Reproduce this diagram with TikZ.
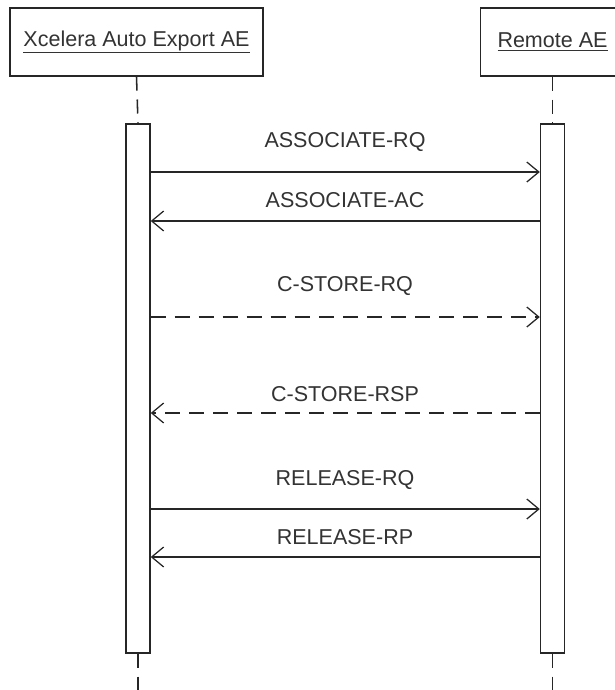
\documentclass[tikz,border=0pt]{standalone}
\usepackage{fontspec}
\setmainfont{Liberation Sans}
\usetikzlibrary{arrows.meta}

\begin{document}
\begin{tikzpicture}
	[x = 0.025cm, y = -0.025cm,
	every node/.style = {font=\fontsize{15.3}{18}\selectfont, text=black!80},
	actor/.style = {draw=black!85, line width=1pt, fill=white, inner sep=0pt, minimum height=1.7cm},
	bar/.style = {draw=black!85, line width=1pt, fill=white, inner sep=0pt, minimum width=0.6cm, minimum height=13.225cm},
	lifeline/.style = {draw=black!85, line width=1.1pt, dash pattern=on 0.35cm off 0.22cm},
	msg/.style = {draw=black!85, line width=0.9pt, -{Straight Barb[length=0.3cm, width=0.5cm]}},
	reply/.style = {msg, dash pattern=on 0.37cm off 0.23cm}]
	\useasboundingbox (0,0) rectangle (615,690);
	% the two application entities
	\node [actor, minimum width=6.325cm] (aeL) at (136.5,42) {\underline{Xcelera Auto Export AE}};
	\node [actor, minimum width=3.6cm] (aeR) at (552.5,42) {\underline{Remote AE}};
	\node [bar] (barL) at (138,388.5) {};
	\node [bar] (barR) at (552.5,388.5) {};
	\coordinate (endL) at (138,690);
	\coordinate (endR) at (552.5,690);
	\draw [lifeline] (aeL.south) -- (barL.north);
	\draw [lifeline] (aeR.south) -- (barR.north);
	\draw [lifeline] (barL.south) -- (endL);
	\draw [lifeline] (barR.south) -- (endR);
	% messages
	\foreach \i/\y/\ly/\txt/\from/\to/\sty in
		{1/172/142.5/ASSOCIATE-RQ/barL.east/barR.west/msg,
		 2/221/200/ASSOCIATE-AC/barR.west/barL.east/msg,
		 3/317/286.5/C-STORE-RQ/barL.east/barR.west/reply,
		 4/413/394/C-STORE-RSP/barR.west/barL.east/reply,
		 5/509/480/RELEASE-RQ/barL.east/barR.west/msg,
		 6/557/537/RELEASE-RP/barR.west/barL.east/msg}
	{
		\node (lbl\i) at (345,\ly) {\txt};
		\draw [\sty] (\from |- 0,\y) -- (\to |- 0,\y);
	}
\end{tikzpicture}
\end{document}
